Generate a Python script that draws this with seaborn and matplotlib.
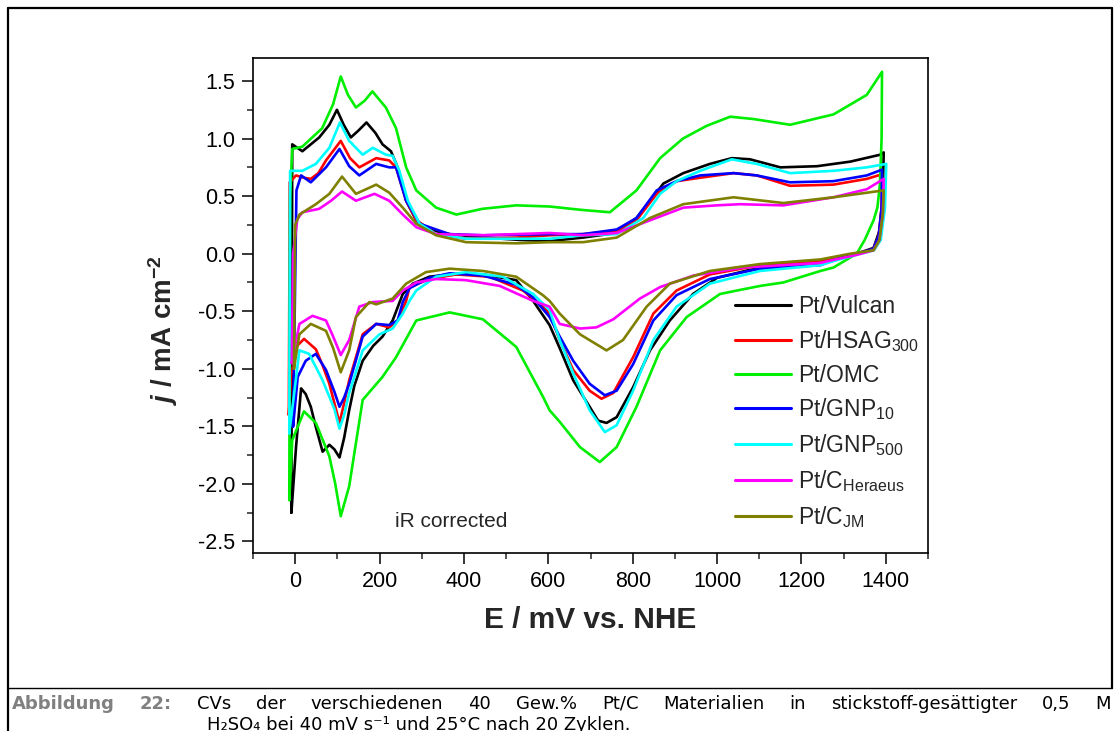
import matplotlib
matplotlib.use("Agg")
import matplotlib.pyplot as plt
import pandas as pd
import seaborn as sns
from matplotlib.lines import Line2D
from matplotlib.ticker import MultipleLocator

# ---------------- data ----------------
labels = ["Pt/Vulcan", r"Pt/HSAG$_\mathregular{300}$", "Pt/OMC",
          r"Pt/GNP$_\mathregular{10}$", r"Pt/GNP$_\mathregular{500}$",
          r"Pt/C$_\mathregular{Heraeus}$", r"Pt/C$_\mathregular{JM}$"]
colors = ["#000000", "#ff0000", "#00ee00", "#0000ff", "#00ffff", "#ff00ff", "#808000"]

# Pt/Vulcan
vul_up_E = [-9, -7, 17, 57, 81, 99, 115, 132, 150, 169, 190, 207, 227, 243, 263, 287, 318, 366, 450, 530, 603, 682, 762, 809, 841, 873, 920, 983, 1035, 1078, 1150, 1237, 1316, 1387, 1395]
vul_up_j = [-2.25, 0.95, 0.89, 1.01, 1.12, 1.25, 1.12, 1.01, 1.07, 1.14, 1.05, 0.95, 0.89, 0.75, 0.46, 0.29, 0.21, 0.17, 0.14, 0.12, 0.11, 0.14, 0.18, 0.31, 0.46, 0.61, 0.70, 0.78, 0.83, 0.82, 0.75, 0.76, 0.80, 0.86, 0.88]
vul_dn_E = [1395, 1393, 1385, 1371, 1331, 1276, 1245, 1160, 1078, 1000, 943, 888, 841, 801, 762, 738, 718, 698, 659, 627, 603, 564, 524, 445, 366, 318, 279, 255, 231, 207, 185, 160, 140, 128, 116, 105, 93, 81, 65, 50, 37, 25, 14, 2, -9]
vul_dn_j = [0.88, 0.50, 0.20, 0.05, 0.00, -0.04, -0.07, -0.10, -0.14, -0.21, -0.35, -0.58, -0.84, -1.16, -1.42, -1.47, -1.45, -1.33, -1.10, -0.82, -0.62, -0.41, -0.23, -0.18, -0.18, -0.20, -0.26, -0.35, -0.58, -0.72, -0.80, -0.93, -1.15, -1.36, -1.60, -1.77, -1.70, -1.66, -1.72, -1.52, -1.33, -1.22, -1.17, -1.68, -2.25]

# Pt/HSAG300
hsag_up_E = [-15, -13, 2, 20, 37, 55, 73, 108, 130, 152, 192, 223, 239, 263, 287, 334, 405, 524, 603, 682, 762, 809, 857, 904, 960, 1039, 1094, 1173, 1276, 1355, 1391]
hsag_up_j = [-1.40, 0.62, 0.68, 0.66, 0.65, 0.70, 0.81, 0.98, 0.83, 0.75, 0.83, 0.81, 0.75, 0.46, 0.29, 0.17, 0.13, 0.14, 0.16, 0.17, 0.20, 0.29, 0.52, 0.63, 0.66, 0.70, 0.68, 0.59, 0.60, 0.65, 0.69]
hsag_dn_E = [1391, 1390, 1383, 1370, 1330, 1280, 1245, 1102, 983, 904, 849, 801, 754, 726, 698, 659, 627, 603, 587, 540, 461, 382, 318, 271, 263, 243, 223, 192, 160, 128, 116, 105, 93, 81, 65, 49, 21, 2, -10, -15]
hsag_dn_j = [0.69, 0.40, 0.15, 0.04, 0.00, -0.04, -0.07, -0.10, -0.18, -0.32, -0.52, -0.90, -1.21, -1.26, -1.19, -1.01, -0.75, -0.52, -0.46, -0.32, -0.20, -0.18, -0.22, -0.29, -0.41, -0.58, -0.64, -0.61, -0.70, -1.10, -1.30, -1.47, -1.30, -1.13, -0.97, -0.83, -0.74, -0.81, -1.07, -1.40]

# Pt/OMC
omc_up_E = [-14, -12, -7, 17, 64, 90, 108, 125, 144, 165, 183, 215, 239, 263, 287, 334, 382, 444, 524, 603, 680, 746, 809, 865, 919, 975, 1031, 1086, 1173, 1276, 1355, 1391]
omc_up_j = [-2.14, 0.50, 0.91, 0.93, 1.09, 1.30, 1.54, 1.38, 1.27, 1.33, 1.41, 1.27, 1.09, 0.75, 0.55, 0.40, 0.34, 0.39, 0.42, 0.41, 0.38, 0.36, 0.55, 0.83, 1.00, 1.11, 1.19, 1.17, 1.12, 1.21, 1.38, 1.58]
omc_dn_E = [1391, 1390, 1386, 1380, 1371, 1350, 1331, 1276, 1245, 1157, 1102, 1047, 1007, 928, 865, 809, 762, 722, 675, 627, 603, 587, 524, 445, 366, 287, 239, 207, 160, 128, 108, 95, 81, 49, 21, -7, -14]
omc_dn_j = [1.58, 1.00, 0.60, 0.40, 0.29, 0.12, 0.00, -0.12, -0.15, -0.25, -0.28, -0.32, -0.35, -0.55, -0.84, -1.33, -1.68, -1.81, -1.68, -1.46, -1.36, -1.24, -0.81, -0.57, -0.51, -0.58, -0.90, -1.07, -1.27, -2.02, -2.28, -2.00, -1.76, -1.47, -1.37, -1.62, -2.14]

# Pt/GNP10
gnp10_up_E = [-5, 3, 14, 37, 73, 105, 128, 152, 192, 223, 239, 263, 295, 366, 445, 603, 682, 762, 809, 857, 904, 960, 1039, 1094, 1173, 1276, 1355, 1391]
gnp10_up_j = [-1.50, 0.55, 0.68, 0.62, 0.75, 0.91, 0.76, 0.68, 0.78, 0.75, 0.75, 0.46, 0.26, 0.17, 0.16, 0.17, 0.17, 0.21, 0.31, 0.55, 0.63, 0.68, 0.70, 0.68, 0.62, 0.63, 0.68, 0.73]
gnp10_dn_E = [1391, 1390, 1383, 1370, 1330, 1280, 1245, 1102, 983, 904, 849, 801, 762, 734, 698, 659, 627, 603, 564, 524, 445, 366, 318, 271, 255, 243, 223, 192, 160, 128, 116, 105, 93, 73, 49, 25, 6, -5]
gnp10_dn_j = [0.73, 0.40, 0.15, 0.04, 0.00, -0.05, -0.10, -0.13, -0.22, -0.36, -0.58, -0.96, -1.19, -1.23, -1.13, -0.93, -0.72, -0.55, -0.38, -0.27, -0.19, -0.17, -0.21, -0.30, -0.42, -0.58, -0.62, -0.61, -0.72, -1.13, -1.25, -1.33, -1.20, -1.01, -0.87, -0.93, -1.07, -1.50]

# Pt/GNP500
gnp500_up_E = [-14, -12, 17, 49, 81, 106, 128, 160, 184, 215, 231, 247, 267, 295, 334, 405, 524, 603, 682, 762, 825, 865, 904, 960, 1035, 1094, 1173, 1276, 1355, 1401]
gnp500_up_j = [-1.56, 0.72, 0.72, 0.78, 0.92, 1.14, 0.98, 0.86, 0.92, 0.86, 0.85, 0.72, 0.46, 0.26, 0.17, 0.13, 0.13, 0.13, 0.16, 0.17, 0.31, 0.52, 0.63, 0.72, 0.82, 0.78, 0.70, 0.72, 0.75, 0.78]
gnp500_dn_E = [1401, 1398, 1388, 1372, 1330, 1280, 1245, 1102, 983, 904, 849, 801, 762, 734, 698, 659, 627, 603, 564, 492, 405, 334, 287, 271, 255, 231, 200, 160, 128, 116, 105, 93, 65, 33, 10, -14]
gnp500_dn_j = [0.78, 0.40, 0.12, 0.03, -0.01, -0.06, -0.10, -0.15, -0.26, -0.46, -0.75, -1.19, -1.49, -1.55, -1.36, -1.04, -0.75, -0.49, -0.35, -0.20, -0.16, -0.20, -0.32, -0.41, -0.52, -0.65, -0.70, -0.84, -1.21, -1.40, -1.52, -1.35, -1.10, -0.87, -0.84, -1.56]

# Pt/C Heraeus
her_up_E = [-8, -5, 5, 17, 57, 85, 111, 144, 188, 223, 255, 287, 334, 445, 603, 682, 762, 841, 920, 999, 1055, 1157, 1276, 1355, 1395]
her_up_j = [-0.95, 0.00, 0.30, 0.36, 0.39, 0.46, 0.54, 0.46, 0.52, 0.46, 0.34, 0.23, 0.17, 0.16, 0.18, 0.16, 0.18, 0.29, 0.40, 0.42, 0.43, 0.42, 0.49, 0.56, 0.65]
her_dn_E = [1395, 1393, 1385, 1371, 1331, 1280, 1245, 1062, 944, 865, 817, 754, 714, 675, 627, 603, 564, 485, 405, 334, 287, 255, 231, 184, 152, 128, 108, 90, 73, 41, 10, -8]
her_dn_j = [0.65, 0.35, 0.12, 0.03, -0.01, -0.05, -0.08, -0.12, -0.19, -0.29, -0.39, -0.57, -0.64, -0.65, -0.61, -0.46, -0.41, -0.28, -0.23, -0.22, -0.25, -0.32, -0.41, -0.42, -0.46, -0.75, -0.88, -0.72, -0.58, -0.54, -0.61, -0.95]

# Pt/C JM
jm_up_E = [-3, 0, 10, 49, 81, 111, 144, 192, 223, 255, 287, 334, 405, 524, 603, 682, 762, 841, 920, 1039, 1157, 1276, 1395]
jm_up_j = [-1.00, 0.25, 0.34, 0.43, 0.52, 0.67, 0.52, 0.60, 0.53, 0.40, 0.26, 0.16, 0.10, 0.09, 0.10, 0.10, 0.14, 0.31, 0.43, 0.49, 0.44, 0.49, 0.55]
jm_dn_E = [1395, 1393, 1385, 1371, 1316, 1245, 1102, 983, 888, 833, 777, 738, 675, 627, 603, 587, 524, 445, 366, 310, 263, 231, 192, 176, 144, 128, 108, 90, 73, 37, 10, -3]
jm_dn_j = [0.55, 0.35, 0.12, 0.03, 0.00, -0.05, -0.09, -0.15, -0.26, -0.46, -0.75, -0.84, -0.70, -0.52, -0.41, -0.36, -0.20, -0.15, -0.13, -0.16, -0.26, -0.39, -0.44, -0.42, -0.55, -0.84, -1.03, -0.82, -0.67, -0.61, -0.70, -1.00]

x_ticks = [0, 200, 400, 600, 800, 1000, 1200, 1400]
y_ticks = [-2.5, -2.0, -1.5, -1.0, -0.5, 0.0, 0.5, 1.0, 1.5]

series = [
    (labels[0], vul_up_E, vul_up_j, vul_dn_E, vul_dn_j),
    (labels[1], hsag_up_E, hsag_up_j, hsag_dn_E, hsag_dn_j),
    (labels[2], omc_up_E, omc_up_j, omc_dn_E, omc_dn_j),
    (labels[3], gnp10_up_E, gnp10_up_j, gnp10_dn_E, gnp10_dn_j),
    (labels[4], gnp500_up_E, gnp500_up_j, gnp500_dn_E, gnp500_dn_j),
    (labels[5], her_up_E, her_up_j, her_dn_E, her_dn_j),
    (labels[6], jm_up_E, jm_up_j, jm_dn_E, jm_dn_j),
]

rows = []
for name, ue, uj, de, dj in series:
    for e, jv in zip(list(ue) + list(de), list(uj) + list(dj)):
        rows.append({"E": e, "j": jv, "series": name})
df = pd.DataFrame(rows)

# ---------------- style ----------------
sns.set_style("ticks")
plt.rcParams["font.family"] = ["Liberation Sans", "DejaVu Sans"]
plt.rcParams["axes.unicode_minus"] = False
plt.rcParams["mathtext.fontset"] = "custom"
plt.rcParams["mathtext.it"] = "Liberation Sans:italic:bold"
plt.rcParams["mathtext.rm"] = "Liberation Sans"

W, H = 1119, 731
fig = plt.figure(figsize=(W / 100, H / 100), dpi=100)
fig.patch.set_facecolor("white")

def fx(px):
    return px / W

def fy(py):
    return 1 - py / H

ax = fig.add_axes([fx(253), fy(553), fx(928) - fx(253), fy(58) - fy(553)])
ax.set_facecolor("white")

sns.lineplot(data=df, x="E", y="j", hue="series", hue_order=labels,
             palette=dict(zip(labels, colors)), sort=False, estimator=None,
             linewidth=1.9, legend=False, ax=ax)

ax.set_xlim(-100, 1500)
ax.set_ylim(-2.6, 1.7)
ax.set_xticks(x_ticks)
ax.set_yticks(y_ticks)
ax.set_xticklabels([str(v) for v in x_ticks])
ax.set_yticklabels([f"{v:.1f}" for v in y_ticks])
ax.xaxis.set_minor_locator(MultipleLocator(100))
ax.yaxis.set_minor_locator(MultipleLocator(0.25))
ax.tick_params(which="major", direction="out", length=8, width=1.1, labelsize=15.5, pad=5,
               top=False, right=False, colors="black")
ax.tick_params(which="minor", direction="out", length=4.5, width=1.1, top=False, right=False)
for s in ax.spines.values():
    s.set_visible(True)
    s.set_linewidth(1.2)
    s.set_color("black")

ax.set_xlabel("E / mV vs. NHE", fontsize=21.5, fontweight="bold", labelpad=10)
ax.set_ylabel(r"$j$ / mA cm$^{\mathregular{-2}}$", fontsize=20, fontweight="bold")
ax.yaxis.set_label_coords(-0.108, 0.45)

ax.text(370, -2.33, "iR corrected", fontsize=15, ha="center", va="center")

handles = [Line2D([], [], color=c, linewidth=2.2) for c in colors]
leg = ax.legend(handles, labels, loc="upper left", bbox_to_anchor=(fx(735), fy(295)),
                bbox_transform=fig.transFigure, frameon=False, fontsize=16.5,
                handlelength=2.45, handletextpad=0.3, labelspacing=0.43,
                borderpad=0, borderaxespad=0)

# ---------------- outer frame & caption ----------------
lw = 1.6
fig.add_artist(Line2D([fx(8), fx(1112)], [fy(8), fy(8)], color="black", lw=lw))
fig.add_artist(Line2D([fx(8), fx(8)], [fy(8), fy(731)], color="black", lw=lw))
fig.add_artist(Line2D([fx(1112), fx(1112)], [fy(8), fy(688)], color="black", lw=lw))
fig.add_artist(Line2D([fx(8), fx(1112)], [fy(688), fy(688)], color="black", lw=1.0))

capfam = ["DejaVu Sans"]
capsize = 13
words1 = ["Abbildung", "22:", "CVs", "der", "verschiedenen", "40", "Gew.%", "Pt/C",
          "Materialien", "in", "stickstoff-gesättigter", "0,5", "M"]
renderer = fig.canvas.get_renderer()
texts = []
for i, w in enumerate(words1):
    grey = i < 2
    t = fig.text(0, fy(709), w, fontsize=capsize, family=capfam, va="baseline", ha="left",
                 color="#808080" if grey else "black", fontweight="bold" if grey else "normal")
    texts.append(t)
widths = [t.get_window_extent(renderer).width for t in texts]
x0, x1 = 12, 1111
gap = (x1 - x0 - sum(widths)) / (len(words1) - 1)
xc = x0
for t, wd in zip(texts, widths):
    t.set_x(fx(xc))
    xc += wd + gap

fig.text(fx(207), fy(730), "H\u2082SO\u2084 bei 40 mV s\u207b\u00b9 und 25°C nach 20 Zyklen.",
         fontsize=capsize, family=capfam, va="baseline", ha="left", color="black")

fig.savefig("out.png", dpi=100, facecolor="white")
